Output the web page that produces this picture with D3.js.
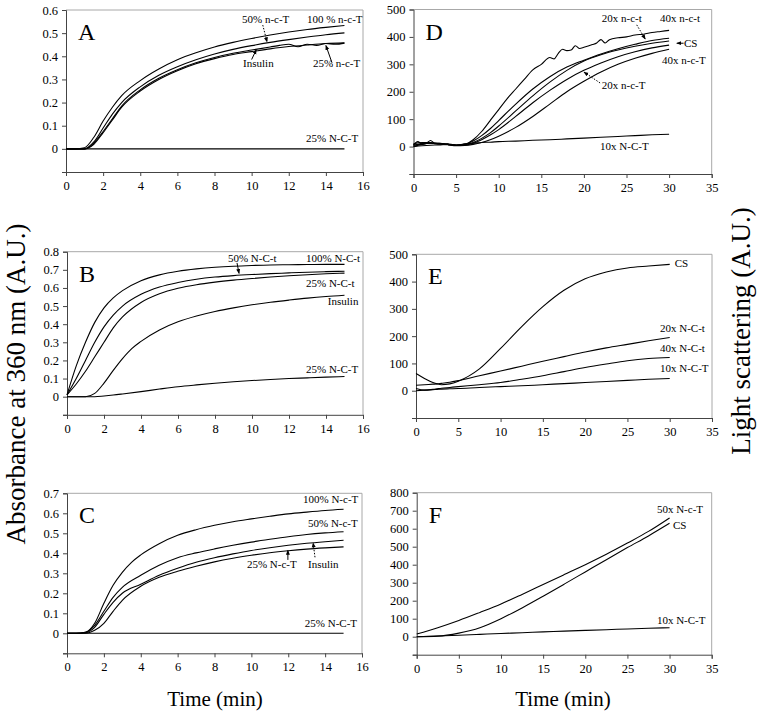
<!DOCTYPE html>
<html><head><meta charset="utf-8">
<script src="https://cdn.jsdelivr.net/npm/d3@7"></script>
<style>
body{margin:0;background:#fff;}
svg text{font-family:"Liberation Serif","Times New Roman",serif;fill:#000;}
</style></head>
<body><svg id="c" width="757" height="716"></svg>
<script>
// ---------- data ----------
const tABC = [0,0.5,1,1.5,2,2.5,3,4,5,6,7,8,9,10,11,12,13,14,15];
const tABC2 = [0,0.5,1,1.5,2,2.5,3,3.5,4,5,6,7,8,9,10,11,12,13,14,15];
const xTicks16 = [0,2,4,6,8,10,12,14,16];
const xTicks35 = [0,5,10,15,20,25,30,35];

// Panel A
const A_100 = [0,0,0.005,0.05,0.12,0.18,0.23,0.295,0.345,0.385,0.415,0.44,0.46,0.477,0.492,0.505,0.516,0.525,0.533];
const A_50  = [0,0,0,0.03,0.09,0.15,0.2,0.268,0.318,0.355,0.385,0.41,0.43,0.446,0.46,0.472,0.483,0.493,0.501];
const A_ins = [0,0,0,0.02,0.07,0.125,0.18,0.25,0.3,0.338,0.368,0.39,0.408,0.42,0.432,0.442,0.449,0.455,0.458];
const tA25 = [0,0.5,1,1.5,2,2.5,3,4,5,6,7,8,9,10,11,11.5,12,12.5,13,13.5,14,14.5,15];
const A_25  = [0,0,0,0.025,0.075,0.13,0.185,0.255,0.305,0.342,0.372,0.395,0.413,0.427,0.44,0.447,0.452,0.441,0.452,0.447,0.455,0.452,0.457];
const A_NCT = [0,0,0,0,0,0,0,0,0,0,0,0,0,0,0,0,0,0,0];
const A_yTicks = [0,0.1,0.2,0.3,0.4,0.5,0.6];

// Panel B
const B_100 = [0.01,0.17,0.3,0.41,0.49,0.545,0.585,0.64,0.672,0.692,0.705,0.714,0.72,0.724,0.727,0.728,0.729,0.73,0.73];
const B_50  = [0.01,0.1,0.2,0.3,0.385,0.45,0.5,0.565,0.605,0.63,0.648,0.66,0.668,0.674,0.679,0.683,0.687,0.69,0.692];
const B_25  = [0.01,0.07,0.14,0.22,0.3,0.38,0.44,0.52,0.568,0.598,0.618,0.632,0.643,0.652,0.66,0.667,0.673,0.678,0.682];
const B_ins = [0,0,0,0.018,0.075,0.145,0.21,0.265,0.305,0.368,0.413,0.445,0.47,0.49,0.507,0.521,0.533,0.544,0.553,0.56];
const B_NCT = [0,0,0,0,0.004,0.009,0.015,0.028,0.042,0.055,0.065,0.074,0.082,0.089,0.095,0.1,0.104,0.108,0.111];
const B_yTicks = [0,0.1,0.2,0.3,0.4,0.5,0.6,0.7,0.8];

// Panel C
const C_100 = [0,0,0.005,0.05,0.15,0.24,0.305,0.355,0.392,0.448,0.49,0.518,0.54,0.558,0.572,0.585,0.597,0.606,0.614,0.62];
const C_50  = [0,0,0.005,0.04,0.11,0.18,0.23,0.29,0.34,0.378,0.402,0.422,0.44,0.456,0.47,0.483,0.494,0.502,0.508];
const C_ins = [0,0,0.003,0.03,0.095,0.155,0.2,0.245,0.29,0.325,0.355,0.378,0.397,0.414,0.428,0.44,0.45,0.458,0.465];
const C_25  = [0,0,0,0.015,0.05,0.11,0.165,0.235,0.28,0.31,0.335,0.357,0.375,0.39,0.403,0.413,0.421,0.427,0.432];
const C_NCT = [0,0,0,0,0,0,0,0,0,0,0,0,0,0,0,0,0,0,0];
const C_yTicks = [0,0.1,0.2,0.3,0.4,0.5,0.6,0.7];

// Panel D
const tD = [0,1,2,3,4,5,6,7,8,9,10,12,14,16,18,20,22,24,26,28,30];
const tDw = [0,0.5,1,1.5,2,2.5,3,3.5,4,5,6,7,8,9,10,11,12,13,14,15,16,16.5,17,17.5,18,18.5,19,19.5,20,21,21.5,22,22.5,23,24,25,26,27,28,29,30];
const D_40t = [5,18,10,12,22,12,12,10,8,5,8,25,55,95,135,175,210,245,280,300,325,320,340,355,350,352,368,358,362,372,378,390,378,390,397,400,407,410,416,420,424];
const D_20t = [10,15,15,12,10,6,8,20,40,65,95,155,210,255,290,315,338,357,373,387,395];
const D_CS  = [5,10,12,10,8,5,6,15,30,50,75,130,185,235,278,312,335,352,366,377,385];
const D_20T = [0,8,12,10,8,5,5,12,25,42,62,110,160,205,245,278,305,328,346,360,370];
const D_40T = [5,10,12,10,7,3,4,8,15,25,38,70,110,155,200,238,272,300,322,340,355];
const D_10  = [0,3,5,6,8,5,10,12,15,16,18,20,23,25,28,31,34,37,40,43,45];
const DE_yTicks = [0,100,200,300,400,500];

// Panel E
const tE = [0,1,2,2.5,3,4,5,7.5,10,12.5,15,17.5,20,22.5,25,27.5,30];
const E_CS  = [63,45,30,25,22,25,35,80,155,235,308,368,410,435,450,457,463];
const E_20t = [20,22,24,25,27,31,37,55,72,90,108,125,142,157,170,183,195];
const E_40t = [8,2,5,7,9,12,15,22,30,42,55,70,85,98,110,118,122];
const E_10  = [0,2,4,5,6,7,8,12,15,18,22,26,30,34,38,42,45];

// Panel F
const tF = [0,2.5,5,7.5,10,12.5,15,17.5,20,22.5,25,27.5,30];
const F_50 = [15,50,90,135,182,235,290,345,400,458,520,585,660];
const F_CS = [0,3,20,50,100,160,225,292,360,428,495,560,630];
const F_10 = [0,4,8,13,18,22,27,31,35,39,43,47,50];
const F_yTicks = [0,100,200,300,400,500,600,700,800];

// ---------- panels ----------
const panels = [
  {id:"A", box:[66,363,10,172], xd:[0,16], yd:[-0.1,0.6], xt:xTicks16, yt:A_yTicks, fmt:d=>d===0?"0":d3.format(".1f")(d),
   series:[[tABC,A_100],[tABC,A_50],[tABC,A_ins],[tA25,A_25],[tABC,A_NCT]],
   labels:[["50% n-c-T",9.48,0.544],["100 % n-c-T",12.98,0.544],["Insulin",9.54,0.352],["25% n-c-T",13.3,0.352],["25% N-C-T",12.93,0.03]],
   arrows:[[10.6,0.535,10.83,0.462,true],[10.0,0.386,10.25,0.428,false],[14.33,0.372,14.0,0.447,false]]},
  {id:"B", box:[67,363,251.7,414.8], xd:[0,16], yd:[-0.1,0.8], xt:xTicks16, yt:B_yTicks, fmt:d=>d===0?"0":d3.format(".1f")(d),
   series:[[tABC,B_100],[tABC,B_50],[tABC,B_25],[tABC2,B_ins],[tABC,B_NCT]],
   labels:[["50% N-C-t",8.7,0.744],["100% N-C-t",12.92,0.744],["25% N-C-t",12.92,0.606],["Insulin",14.1,0.507],["25% N-C-T",12.92,0.131]],
   arrows:[[9.19,0.738,9.3,0.68,false]]},
  {id:"C", box:[67,362,493.3,653.3], xd:[0,16], yd:[-0.1,0.7], xt:xTicks16, yt:C_yTicks, fmt:d=>d===0?"0":d3.format(".1f")(d),
   series:[[tABC2,C_100],[tABC,C_50],[tABC,C_ins],[tABC,C_25],[tABC,C_NCT]],
   labels:[["100% N-c-T",12.8,0.652],["50% N-c-T",13.07,0.532],["25% N-c-T",9.76,0.327],["Insulin",13.07,0.327],["25% N-C-T",12.9,0.032]],
   arrows:[[11.98,0.367,11.98,0.415,false],[13.45,0.38,13.35,0.452,true]]},
  {id:"D", box:[413.5,711.7,9.5,174], xd:[0,35], yd:[-100,500], xt:xTicks35, yt:DE_yTicks, fmt:d=>String(d),
   series:[[tDw,D_40t],[tD,D_20t],[tD,D_CS],[tD,D_20T],[tD,D_40T],[tD,D_10]],
   labels:[["20x n-c-t",22.1,455],["40x n-c-t",28.93,455],["CS",31.75,364],["40x n-c-T",29.17,302],["20x n-c-T",22.1,210],["10x N-C-T",21.9,-12]],
   arrows:[[26.2,444,27.2,392,true],[31.7,377,30.9,377,false],[21.9,232,20.0,272,true]]},
  {id:"E", box:[416,712,254.3,418], xd:[0,35], yd:[-100,500], xt:xTicks35, yt:DE_yTicks, fmt:d=>String(d),
   series:[[tE,E_CS],[tE,E_20t],[tE,E_40t],[tE,E_10]],
   labels:[["CS",30.6,453],["20x N-C-t",28.85,215],["40x N-C-t",28.85,142],["10x N-C-T",28.85,68]],
   arrows:[]},
  {id:"F", box:[416.7,711.7,492.7,654.7], xd:[0,35], yd:[-100,800], xt:xTicks35, yt:F_yTicks, fmt:d=>String(d),
   series:[[tF,F_50],[tF,F_CS],[tF,F_10]],
   labels:[["50x N-c-T",28.5,687],["CS",30.4,598],["10x N-C-T",28.5,70]],
   arrows:[]}
];

const svg = d3.select("#c");
const defs = svg.append("defs");
defs.append("marker").attr("id","ah").attr("viewBox","0 0 10 10").attr("refX",9).attr("refY",5)
  .attr("markerWidth",5).attr("markerHeight",5).attr("orient","auto")
  .append("path").attr("d","M0,1 L10,5 L0,9 Z").attr("fill","#000");

panels.forEach(p=>{
  const [x0,x1,y0,y1] = p.box;
  const x = d3.scaleLinear().domain(p.xd).range([x0,x1]);
  const y = d3.scaleLinear().domain(p.yd).range([y1,y0]);
  const g = svg.append("g");
  g.append("path").attr("d",`M${x0},${y0}H${x1}V${y1}`).attr("fill","none").attr("stroke","#a8a8a8").attr("stroke-width",1);
  const step = p.yt[1]-p.yt[0];
  const yvals = d3.range(p.yd[0], p.yd[1]+step/2, step).map(v=>+v.toFixed(4));
  const ya = g.append("g").attr("transform",`translate(${x0},0)`)
    .call(d3.axisLeft(y).tickValues(yvals)
      .tickSize(4).tickPadding(4).tickFormat(v=>p.yt.some(t=>Math.abs(t-v)<1e-9)?p.fmt(v):""));
  ya.select(".domain").attr("stroke","#444");
  ya.selectAll(".tick line").attr("stroke","#444");
  ya.selectAll("text").style("font-family","Liberation Serif").style("font-size","12.5px").attr("fill","#000");
  const xa = g.append("g").attr("transform",`translate(0,${y1})`)
    .call(d3.axisBottom(x).tickValues(p.xt).tickSize(4).tickPadding(5).tickFormat(d3.format("d")));
  xa.select(".domain").attr("stroke","#444");
  xa.selectAll(".tick line").attr("stroke","#444");
  xa.selectAll("text").style("font-family","Liberation Serif").style("font-size","12.5px").attr("fill","#000");
  const line = d3.line().x(d=>x(d[0])).y(d=>y(d[1])).curve(d3.curveMonotoneX);
  p.series.forEach(([t,v])=>{
    g.append("path").datum(t.map((tt,i)=>[tt,v[i]])).attr("d",line)
      .attr("fill","none").attr("stroke","#000").attr("stroke-width",1.1);
  });
  p.labels.forEach(([txt,lx,ly])=>{
    g.append("text").attr("x",x(lx)).attr("y",y(ly)).style("font-size","11px").text(txt);
  });
  p.arrows.forEach(([ax,ay,bx,by,dotted])=>{
    g.append("line").attr("x1",x(ax)).attr("y1",y(ay)).attr("x2",x(bx)).attr("y2",y(by))
      .attr("stroke","#000").attr("stroke-width",1).attr("stroke-dasharray",dotted?"1.5,1.5":null)
      .attr("marker-end","url(#ah)");
  });
  g.append("text").attr("x",x0+12).attr("y",y0+30).style("font-size","24px").text(p.id);
});

svg.append("text").attr("transform","translate(25,384) rotate(-90)").attr("text-anchor","middle")
  .style("font-size","27px").text("Absorbance at 360 nm (A.U.)");
svg.append("text").attr("transform","translate(750,331) rotate(-90)").attr("text-anchor","middle")
  .style("font-size","27px").text("Light scattering (A.U.)");
svg.append("text").attr("x",215).attr("y",706).attr("text-anchor","middle").style("font-size","21px").text("Time (min)");
svg.append("text").attr("x",563).attr("y",706).attr("text-anchor","middle").style("font-size","21px").text("Time (min)");
</script></body></html>
